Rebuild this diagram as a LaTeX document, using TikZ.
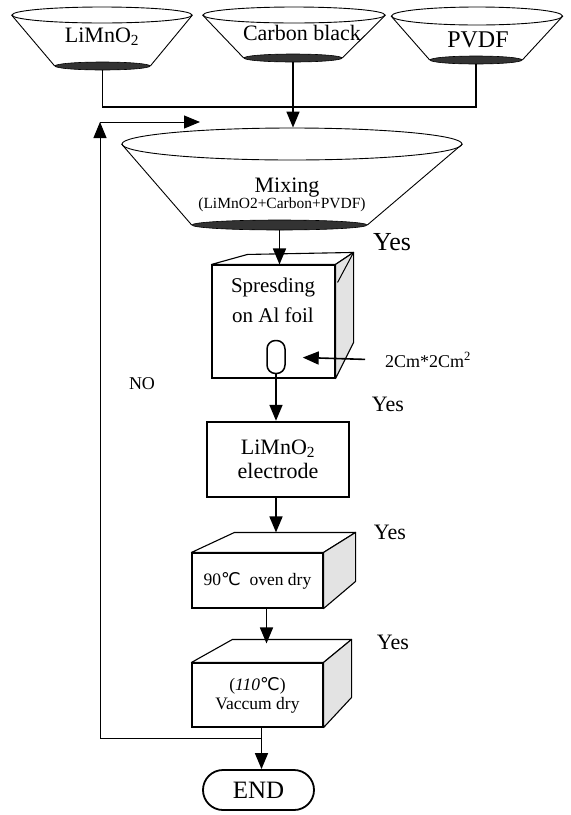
\documentclass[tikz,border=0pt]{standalone}
\usepackage{fontspec}
\setmainfont{Liberation Serif}
\newfontfamily\degfont{DejaVu Sans}
\usetikzlibrary{arrows.meta, positioning, shapes.geometric, calc}

\begin{document}
\begin{tikzpicture}[
        x=1pt, y=-1pt,
        funneltop/.style={draw, ellipse, fill=white, inner sep=0pt, line width=0.9pt},
        funnelout/.style={draw, ellipse, fill=black!80, inner sep=0pt, line width=0.6pt},
        funnelside/.style={line width=0.9pt},
        cubeface/.style={draw, fill=white, line width=1.1pt, align=center, inner sep=0pt},
        cubetop/.style={draw, fill=white, line width=1.1pt, line join=round},
        cubeside/.style={draw, fill=gray!22, line width=1.1pt, line join=round},
        line/.style={line width=1.6pt},
        thinline/.style={line width=1pt},
        arrow/.style={-{Triangle[length=16pt, width=13pt]}, line width=1.6pt},
        thinarrow/.style={-{Triangle[length=16pt, width=13pt]}, line width=1pt},
        bigtxt/.style={font=\fontsize{22}{24}\selectfont, inner sep=0pt, align=center},
        midtxt/.style={font=\fontsize{21}{30}\selectfont, inner sep=0pt, align=center},
        subtxt/.style={font=\fontsize{15.5}{18}\selectfont, inner sep=0pt, align=center},
        smalltxt/.style={font=\fontsize{17.5}{19}\selectfont, inner sep=0pt, align=center}
    ]
    \fill[white] (0,0) rectangle (571,815);

    % supply funnels
    \node[funneltop, minimum width=180pt, minimum height=16pt] (limtop) at (102,15) {};
    \node[funnelout, minimum width=95pt, minimum height=8pt] (limout) at (102.5,66) {};
    \draw[funnelside] (limtop.west) -- (limout.west) (limtop.east) -- (limout.east);
    \node[bigtxt] (limlbl) at (102,37) {LiMnO\textsubscript{2}};

    \node[funneltop, minimum width=182pt, minimum height=16pt] (carbtop) at (294,15) {};
    \node[funnelout, minimum width=98pt, minimum height=8pt] (carbout) at (293,58) {};
    \draw[funnelside] (carbtop.west) -- (carbout.west) (carbtop.east) -- (carbout.east);
    \node[bigtxt] (carblbl) at (302,33) {Carbon black};

    \node[funneltop, minimum width=171pt, minimum height=18pt] (pvtop) at (477,16) {};
    \node[funnelout, minimum width=92pt, minimum height=8pt] (pvout) at (476,60) {};
    \draw[funnelside] (pvtop.west) -- (pvout.west) (pvtop.east) -- (pvout.east);
    \node[bigtxt, font=\fontsize{24}{26}\selectfont] (pvlbl) at (478,40) {PVDF};

    % mixing funnel
    \node[funneltop, minimum width=340pt, minimum height=32pt] (mixtop) at (292,144) {};
    \node[funnelout, minimum width=175pt, minimum height=10pt] (mixout) at (279.5,225) {};
    \draw[funnelside] (mixtop.west) -- (mixout.west) (mixtop.east) -- (mixout.east);
    \node[bigtxt] (mixlbl) at (287,188) {Mixing};
    \node[subtxt] (mixsub) at (282,205) {(LiMnO2+Carbon+PVDF)};

    \coordinate (bus) at (0,107);
    \draw[line] (limout.south) -- (limout.south |- bus) -- (pvout.south |- bus) -- (pvout.south);
    \draw[arrow] (carbout.south) -- (carbout.south |- mixtop.north);

    % spreading
    \node[cubeface, minimum width=123pt, minimum height=113pt] (spread) at (273.5,321.5) {};
    \draw[cubetop] (spread.north west) -- ++(36,-10) -- ($(spread.north east)+(18,-12)$) -- (spread.north east) -- cycle;
    \draw[cubeside] (spread.north east) -- ++(18,-12) coordinate (spread-br) -- ++(0,90) -- (spread.south east) -- cycle;
    \draw[thinline] (spread-br) -- ++(-16,30);
    \node[midtxt] (spreadlbl) at (273,300) {Spresding\\on Al foil};
    \node[draw, line width=1.5pt, minimum width=18pt, minimum height=33pt, rounded corners=8.5pt, inner sep=0pt] (slot) at (276,357) {};
    \node[smalltxt, font=\fontsize{18}{20}\selectfont, anchor=west] (dim) at (385,360) {2Cm*2Cm\textsuperscript{2}};
    \draw[arrow, shorten <=20pt, shorten >=17pt] (dim.west) -- (slot.east);
    \draw[arrow] (mixout.south) -- (mixout.south |- spread.north);

    % electrode
    \node[draw, line width=2.4pt, minimum width=142pt, minimum height=75pt, bigtxt] (elec) at (278,459.5) {LiMnO\textsubscript{2}\\electrode};
    \draw[arrow] (slot.south) -- (slot.south |- elec.north);

    % oven dry
    \node[cubeface, minimum width=131pt, minimum height=55pt, smalltxt] (oven) at (257.5,580.5) {90{\degfont ℃}\ \ oven\ dry};
    \draw[cubetop] (oven.north west) -- ++(43,-20) coordinate (oven-back) -- ($(oven.north east)+(32,-20)$) -- (oven.north east) -- cycle;
    \draw[cubeside] (oven.north east) -- ++(32,-20) -- ++(0,49) -- (oven.south east) -- cycle;
    \draw[arrow] (elec.south -| slot.south) -- (slot.south |- oven-back);

    % vacuum dry
    \node[cubeface, minimum width=131pt, minimum height=64pt, smalltxt] (vac) at (257.5,695) {(\textit{110}{\degfont ℃})\\Vaccum dry};
    \draw[cubetop] (vac.north west) -- ++(41,-23) coordinate (vac-back) -- ($(vac.north east)+(28,-23)$) -- (vac.north east) -- cycle;
    \draw[cubeside] (vac.north east) -- ++(28,-23) -- ++(0,58) -- (vac.south east) -- cycle;
    \coordinate (drop2) at ($(oven.south)+(9,0)$);
    \draw[arrow] (drop2) -- ($(drop2 |- vac-back)+(0,4)$);

    % end
    \node[draw, line width=1.8pt, rounded corners=20pt, minimum width=111pt, minimum height=40pt, bigtxt, font=\fontsize{25}{27}\selectfont] (fin) at (258.5,790) {END};
    \coordinate (drop3) at ($(vac.south)+(4,0)$);
    \draw[arrow] (drop3) -- (drop3 |- fin.north);

    % feedback loop
    \coordinate (fb-bot) at (100,738);
    \coordinate (fb-top) at (100,122);
    \coordinate (fb-end) at (200,122);
    \draw[thinline] (drop3 |- fb-bot) -- (fb-bot);
    \draw[thinarrow] (fb-bot) -- (fb-top);
    \draw[thinarrow] (fb-top) -- (fb-end);

    % labels
    \node[bigtxt, font=\fontsize{26}{28}\selectfont] (yes1) at (392,242) {Yes};
    \node[bigtxt] (yes2) at (388,404) {Yes};
    \node[bigtxt] (yes3) at (390,532) {Yes};
    \node[bigtxt] (yes4) at (393,642) {Yes};
    \node[smalltxt, font=\fontsize{18}{20}\selectfont] (no) at (142,384) {NO};
\end{tikzpicture}
\end{document}
